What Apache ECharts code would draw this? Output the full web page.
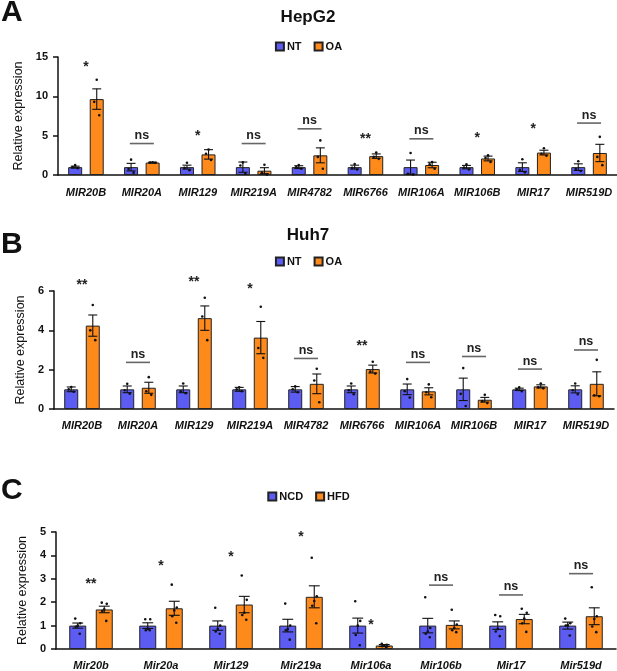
<!DOCTYPE html>
<html>
<head>
<meta charset="utf-8">
<script src="https://cdn.jsdelivr.net/npm/echarts@6/dist/echarts.min.js"></script>
<style>
html, body { margin: 0; padding: 0; background: #fff; }
#main { width: 617px; height: 671px; }
</style>
</head>
<body>
<div id="main"></div>
<script>
var FONT = "'Liberation Sans', Arial, Helvetica, sans-serif";
var BLUE = '#5c5cf2';
var ORANGE = '#fd8a1a';

// A - HepG2
var catsA = ['MIR20B', 'MIR20A', 'MIR129', 'MIR219A', 'MIR4782', 'MIR6766', 'MIR106A', 'MIR106B', 'MIR17', 'MIR519D'];
var ntMeanA = [1, 1, 1, 1, 1, 1, 1, 1, 1, 1];
var ntSemA = [0.12, 0.48, 0.25, 0.65, 0.18, 0.25, 0.9, 0.22, 0.55, 0.42];
var oaMeanA = [9.65, 1.58, 2.62, 0.55, 2.5, 2.4, 1.27, 2.1, 2.85, 2.8];
var oaSemA = [1.3, 0.05, 0.6, 0.38, 0.95, 0.28, 0.35, 0.3, 0.3, 1.1];
var ntDotsA = [[1.25, 1.0, 0.85], [1.95, 0.75, 0.3], [1.55, 0.9, 0.6], [1.6, 1.2, 0.2], [1.25, 1.0, 0.8],
    [1.4, 0.9, 0.7], [2.8, 0.15, 0.05], [1.35, 0.95, 0.7], [2.0, 0.65, 0.35], [1.75, 0.75, 0.5]];
var oaDotsA = [[12.1, 9.3, 7.6], [1.62, 1.58, 1.55], [3.25, 2.7, 1.9], [1.3, 0.3, 0.05], [4.4, 2.3, 0.8],
    [2.85, 2.3, 2.05], [1.65, 1.35, 0.8], [2.5, 2.15, 1.65], [3.4, 2.7, 2.45], [4.85, 2.3, 1.25]];
var sigA = ['*', 'ns', '*', 'ns', 'ns', '**', 'ns', '*', '*', 'ns'];
var sigYA = [14.2, 4.0, 5.35, 4.0, 5.87, 4.94, 4.6, 5.15, 6.3, 6.6];

// B - Huh7
var catsB = ['MIR20B', 'MIR20A', 'MIR129', 'MIR219A', 'MIR4782', 'MIR6766', 'MIR106A', 'MIR106B', 'MIR17', 'MIR519D'];
var ntMeanB = [1, 1, 1, 1, 1, 1, 1, 1, 1, 1];
var ntSemB = [0.12, 0.17, 0.17, 0.1, 0.14, 0.17, 0.27, 0.57, 0.06, 0.18];
var oaMeanB = [4.24, 1.08, 4.62, 3.63, 1.28, 2.03, 0.9, 0.47, 1.15, 1.28];
var oaSemB = [0.54, 0.28, 0.62, 0.82, 0.5, 0.2, 0.18, 0.12, 0.08, 0.61];
var ntDotsB = [[1.12, 1.0, 0.88], [1.28, 0.95, 0.78], [1.3, 0.9, 0.8], [1.1, 1.0, 0.9], [1.15, 1.0, 0.85],
    [1.3, 0.95, 0.75], [1.52, 0.9, 0.58], [2.08, 0.77, 0.15], [1.1, 1.0, 0.9], [1.3, 0.95, 0.75]];
var oaDotsB = [[5.29, 4.0, 3.5], [1.62, 0.9, 0.72], [5.66, 4.7, 3.5], [5.2, 3.1, 2.6], [2.05, 1.45, 0.34],
    [2.4, 1.9, 1.8], [1.25, 0.85, 0.6], [0.72, 0.4, 0.3], [1.3, 1.1, 1.05], [2.5, 0.7, 0.65]];
var sigB = ['**', 'ns', '**', '*', 'ns', '**', 'ns', 'ns', 'ns', 'ns'];
var sigYB = [6.5, 2.37, 6.64, 6.25, 2.57, 3.35, 2.37, 2.67, 2.03, 3.0];

// C - mouse liver, NCD vs HFD
var catsC = ['Mir20b', 'Mir20a', 'Mir129', 'Mir219a', 'Mir106a', 'Mir106b', 'Mir17', 'Mir519d'];
var ncdMeanC = [1, 1, 1, 1, 1, 1, 1, 1];
var ncdSemC = [0.11, 0.12, 0.2, 0.27, 0.32, 0.31, 0.16, 0.15];
var hfdMeanC = [1.69, 1.74, 1.9, 2.23, 0.15, 1.03, 1.28, 1.4];
var hfdSemC = [0.14, 0.3, 0.35, 0.47, 0.04, 0.17, 0.2, 0.36];
var ncdDotsC = [[1.3, 1.1, 1.0, 0.95, 0.65], [1.27, 1.27, 0.86, 0.8, 0.8], [1.76, 1.0, 0.85, 0.75, 0.65],
    [1.94, 1.0, 0.85, 0.8, 0.4], [2.04, 1.2, 1.0, 0.6, 0.16], [2.21, 0.9, 0.75, 0.65, 0.5],
    [1.45, 1.4, 0.85, 0.75, 0.55], [1.3, 1.1, 1.02, 1.0, 0.58]];
var hfdDotsC = [[1.98, 1.93, 1.7, 1.62, 1.2], [2.75, 1.77, 1.65, 1.4, 1.12], [3.14, 2.1, 1.55, 1.45, 1.25],
    [3.9, 2.25, 2.05, 1.85, 1.1], [0.22, 0.18, 0.15, 0.12, 0.08], [1.68, 1.05, 0.9, 0.8, 0.72],
    [1.72, 1.55, 1.3, 1.1, 0.73], [2.64, 1.4, 1.28, 0.96, 0.72]];
var sigC = ['**', '*', '*', '*', '*', 'ns', 'ns', 'ns'];
var sigYC = [2.9, 3.7, 4.08, 4.93, 1.15, 2.73, 2.31, 3.22];

var jitter3 = [0, -2.5, 2.5];
var jitter5 = [-2.5, 2.5, 0, -2, 2];

var series = [];

function errRender(off, cap) {
    return function (params, api) {
        var i = api.value(0), m = api.value(1), s = api.value(2);
        var top = api.coord([i, m + s]);
        var bot = api.coord([i, m - s]);
        var x = top[0] + off;
        var st = { stroke: '#111', lineWidth: 1.1 };
        return {
            type: 'group',
            children: [
                { type: 'line', shape: { x1: x, y1: top[1], x2: x, y2: bot[1] }, style: st },
                { type: 'line', shape: { x1: x - cap, y1: top[1], x2: x + cap, y2: top[1] }, style: st },
                { type: 'line', shape: { x1: x - cap, y1: bot[1], x2: x + cap, y2: bot[1] }, style: st }
            ]
        };
    };
}

function dotRender(off) {
    return function (params, api) {
        var p = api.coord([api.value(0), api.value(1)]);
        var k = api.value(2), n = api.value(3);
        var j = n > 3 ? jitter5[k % 5] : jitter3[k % 3];
        return {
            type: 'circle',
            shape: { cx: p[0] + off + j, cy: p[1], r: 1.3 },
            style: { fill: '#111' }
        };
    };
}

function sigRender(labels) {
    return function (params, api) {
        var p = api.coord([api.value(0), api.value(1)]);
        var lab = labels[params.dataIndex];
        if (lab === 'ns') {
            return {
                type: 'group',
                children: [
                    { type: 'line', shape: { x1: p[0] - 12, y1: p[1], x2: p[0] + 12, y2: p[1] },
                      style: { stroke: '#666', lineWidth: 1.6 } },
                    { type: 'text', style: { text: 'ns', x: p[0], y: p[1] - 8,
                      font: 'bold 12.5px ' + FONT, fill: '#222',
                      textAlign: 'center', textVerticalAlign: 'middle', align: 'center', verticalAlign: 'middle' } }
                ]
            };
        }
        return {
            type: 'text',
            style: { text: lab, x: p[0], y: p[1] + 3.5, font: 'bold 14px ' + FONT, fill: '#222',
                textAlign: 'center', textVerticalAlign: 'middle', align: 'center', verticalAlign: 'middle' }
        };
    };
}

function addPanel(gi, names, m1, s1, m2, s2, d1, d2, sig, sigY, barW, gapPct) {
    var off = (barW + barW * gapPct / 100) / 2;
    var cap = barW * 0.32;
    series.push({
        name: names[0], type: 'bar', xAxisIndex: gi, yAxisIndex: gi, data: m1,
        barWidth: barW, barGap: gapPct + '%', z: 2,
        itemStyle: { color: BLUE, borderColor: '#222', borderWidth: 1 }
    });
    series.push({
        name: names[1], type: 'bar', xAxisIndex: gi, yAxisIndex: gi, data: m2,
        barWidth: barW, barGap: gapPct + '%', z: 2,
        itemStyle: { color: ORANGE, borderColor: '#222', borderWidth: 1 }
    });
    var e1 = [], e2 = [], p1 = [], p2 = [], sg = [];
    for (var i = 0; i < m1.length; i++) {
        e1.push([i, m1[i], s1[i]]);
        e2.push([i, m2[i], s2[i]]);
        d1[i].forEach(function (v, k, a) { p1.push([i, v, k, a.length]); });
        d2[i].forEach(function (v, k, a) { p2.push([i, v, k, a.length]); });
        sg.push([i, sigY[i]]);
    }
    series.push({ type: 'custom', xAxisIndex: gi, yAxisIndex: gi, data: e1, z: 3, renderItem: errRender(-off, cap), encode: { x: 0, y: 1 } });
    series.push({ type: 'custom', xAxisIndex: gi, yAxisIndex: gi, data: e2, z: 3, renderItem: errRender(off, cap), encode: { x: 0, y: 1 } });
    series.push({ type: 'custom', xAxisIndex: gi, yAxisIndex: gi, data: p1, z: 4, renderItem: dotRender(-off), encode: { x: 0, y: 1 } });
    series.push({ type: 'custom', xAxisIndex: gi, yAxisIndex: gi, data: p2, z: 4, renderItem: dotRender(off), encode: { x: 0, y: 1 } });
    series.push({ type: 'custom', xAxisIndex: gi, yAxisIndex: gi, data: sg, z: 5, renderItem: sigRender(sig), encode: { x: 0, y: 1 } });
}

addPanel(0, ['NT', 'OA'], ntMeanA, ntSemA, oaMeanA, oaSemA, ntDotsA, oaDotsA, sigA, sigYA, 14, 54);
addPanel(1, ['NT', 'OA'], ntMeanB, ntSemB, oaMeanB, oaSemB, ntDotsB, oaDotsB, sigB, sigYB, 14, 54);
addPanel(2, ['NCD', 'HFD'], ncdMeanC, ncdSemC, hfdMeanC, hfdSemC, ncdDotsC, hfdDotsC, sigC, sigYC, 17, 56);

function xAx(gi, cats, margin) {
    return {
        type: 'category', gridIndex: gi, data: cats,
        axisLine: { lineStyle: { color: '#111', width: 1.5 } },
        axisTick: { show: false },
        axisLabel: { margin: margin, color: '#111', fontFamily: FONT, fontSize: 11, fontWeight: 'bold', fontStyle: 'italic', interval: 0 },
        splitLine: { show: false }
    };
}
function yAx(gi, max, step, gap) {
    return {
        type: 'value', gridIndex: gi, min: 0, max: max, interval: step,
        name: 'Relative expression', nameLocation: 'middle', nameGap: gap,
        nameTextStyle: { fontFamily: FONT, fontSize: 12.5, color: '#111' },
        axisLine: { show: true, lineStyle: { color: '#111', width: 1.5 } },
        axisTick: { show: true, length: 5, lineStyle: { color: '#111', width: 1.5 } },
        axisLabel: { margin: 10, color: '#111', fontFamily: FONT, fontSize: 11, fontWeight: 'bold' },
        splitLine: { show: false }
    };
}
function legendAt(top, names) {
    return {
        data: names, top: top, left: 'center', padding: 0,
        itemWidth: 8, itemHeight: 8, itemGap: 12, icon: 'rect', selectedMode: false,
        textStyle: { fontFamily: FONT, fontSize: 11, fontWeight: 'bold', color: '#111', padding: [0, 0, 0, -2] }
    };
}
function label(txt, x, y, size, align) {
    return {
        type: 'text', silent: true,
        style: { text: txt, x: x, y: y, font: 'bold ' + size + 'px ' + FONT, fill: '#111',
            textAlign: align, textVerticalAlign: 'middle', align: align, verticalAlign: 'middle' }
    };
}

var myChart = echarts.init(document.getElementById('main'));
var option = {
    animation: false,
    graphic: [
        label('A', 1, 13, 30, 'left'),
        label('HepG2', 308, 17, 17, 'center'),
        label('B', 1, 245, 30, 'left'),
        label('Huh7', 308, 235, 17, 'center'),
        label('C', 1, 491, 30, 'left')
    ],
    legend: [legendAt(41, ['NT', 'OA']), legendAt(256, ['NT', 'OA']), legendAt(491, ['NCD', 'HFD'])],
    grid: [
        { left: 58, top: 57, width: 560, height: 118 },
        { left: 54, top: 291, width: 560, height: 118 },
        { left: 56, top: 532, width: 560, height: 118 }
    ],
    xAxis: [xAx(0, catsA, 12), xAx(1, catsB, 11), xAx(2, catsC, 11)],
    yAxis: [yAx(0, 15, 5, 27), yAx(1, 6, 2, 21), yAx(2, 5, 1, 23)],
    series: series
};
myChart.setOption(option);
</script>
</body>
</html>
